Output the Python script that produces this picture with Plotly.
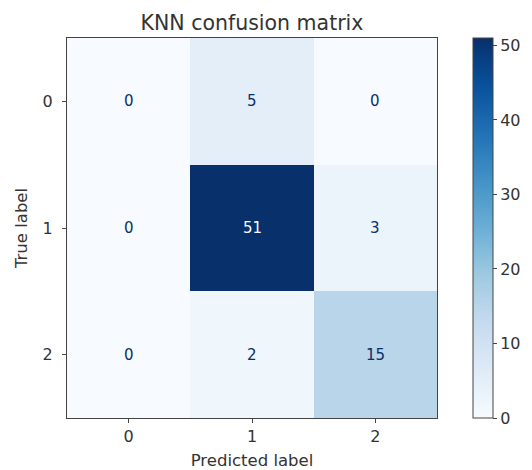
import plotly.graph_objects as go

pred_labels = ["0", "1", "2"]
true_labels = ["0", "1", "2"]
counts = [
    [0, 5, 0],
    [0, 51, 3],
    [0, 2, 15],
]
cbar_ticks = [0, 10, 20, 30, 40, 50]

zmax = max(max(r) for r in counts)
font = "DejaVu Sans, sans-serif"

# page body has an 8px default margin; figure is sized to fit within the window
W, H = 524, 462
L, R, T, B = 59, 95, 30, 52
plot_w = W - L - R

fig = go.Figure(go.Heatmap(
    z=counts,
    x=pred_labels,
    y=true_labels,
    colorscale="Blues",
    zmin=0,
    zmax=zmax,
    showscale=True,
    colorbar=dict(
        x=1 + 36 / plot_w, xanchor="left", xref="paper",
        y=0.5, yanchor="middle", len=1.0, lenmode="fraction",
        thickness=20, thicknessmode="pixels",
        outlinewidth=1, outlinecolor="#444",
        tickvals=cbar_ticks, ticks="outside", ticklen=4, tickcolor="#444",
        tickfont=dict(family=font, size=16, color="#333"),
        xpad=0, ypad=0,
    ),
    hoverinfo="skip",
))

thresh = zmax / 2
for i, row in enumerate(counts):
    for j, v in enumerate(row):
        fig.add_annotation(
            x=pred_labels[j], y=true_labels[i], text=str(v), showarrow=False,
            font=dict(family=font, size=15, color="#f7fbff" if v > thresh else "#08306b"),
        )

fig.update_layout(
    width=W, height=H,
    margin=dict(l=L, r=R, t=T, b=B, autoexpand=False),
    paper_bgcolor="white", plot_bgcolor="white",
    title=dict(text="KNN confusion matrix", x=(L + plot_w / 2) / W, xanchor="center",
               y=1 - 15 / H, yanchor="middle",
               font=dict(family=font, size=20.5, color="#333")),
    font=dict(family=font, color="#333"),
)
fig.update_xaxes(
    type="category", automargin=False,
    title=dict(text="Predicted label", font=dict(size=16.5), standoff=9),
    showline=True, linecolor="#444", linewidth=1, mirror=True,
    ticks="outside", ticklen=4, tickcolor="#444", tickfont=dict(size=16),
    showgrid=False, zeroline=False,
)
fig.update_yaxes(
    type="category", autorange="reversed", automargin=False,
    title=dict(text="True label", font=dict(size=16.5), standoff=10),
    showline=True, linecolor="#444", linewidth=1, mirror=True,
    ticks="outside", ticklen=4, tickcolor="#444", tickfont=dict(size=16),
    ticklabelstandoff=6,
    showgrid=False, zeroline=False,
)

fig.write_html("out.html")
